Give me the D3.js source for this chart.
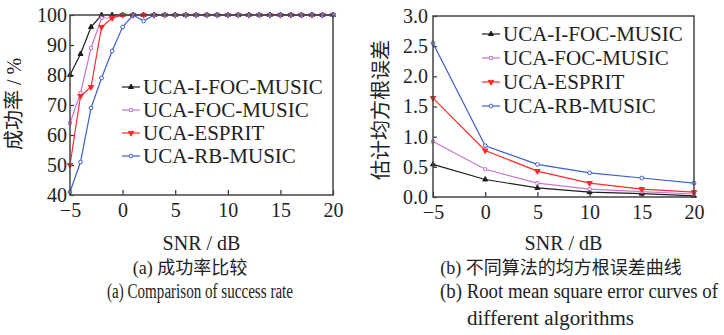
<!DOCTYPE html>
<html lang="zh">
	<head>
		<meta charset="utf-8">
		<title>UCA success rate and RMSE</title>
		<script type="text/javascript" src="https://cdn.jsdelivr.net/npm/d3@7"></script>
		<style type="text/css">
			body { margin: 0; background: #fff; }
			text {
				font-family: "Liberation Serif", "Noto Sans CJK SC", serif;
				fill: #222;
			}
			.axis path { display: none; }
			.axis line { stroke: #333; stroke-width: 1.2; }
			.axis text { font-size: 20px; }
			.frame { fill: none; stroke: #444; stroke-width: 1.5; }
			.legend text { font-size: 21px; }
		</style>
	</head>
	<body>
		<script type="text/javascript">

			// (a) success rate, SNR from -5 to 20 dB in 1 dB steps
			var snrA = [-5,-4,-3,-2,-1,0,1,2,3,4,5,6,7,8,9,10,11,12,13,14,15,16,17,18,19,20];
			var rateIFOC  = [80,87,96,100,100,100,100,100,100,100,100,100,100,100,100,100,100,100,100,100,100,100,100,100,100,100];
			var rateFOC   = [64,74,89,99,99,100,100,100,100,100,100,100,100,100,100,100,100,100,100,100,100,100,100,100,100,100];
			var rateESP   = [50,73,76,96,99,100,100,100,100,100,100,100,100,100,100,100,100,100,100,100,100,100,100,100,100,100];
			var rateRB    = [41,51,69,79,88,96,100,98,100,100,100,100,100,100,100,100,100,100,100,100,100,100,100,100,100,100];

			// (b) RMSE, SNR in 5 dB steps
			var snrB = [-5,0,5,10,15,20];
			var rmseIFOC = [0.54,0.29,0.15,0.08,0.055,0.02];
			var rmseFOC  = [0.92,0.46,0.23,0.13,0.09,0.05];
			var rmseESP  = [1.64,0.77,0.43,0.23,0.13,0.08];
			var rmseRB   = [2.55,0.85,0.54,0.40,0.315,0.23];

			var seriesNames = ["UCA-I-FOC-MUSIC","UCA-FOC-MUSIC","UCA-ESPRIT","UCA-RB-MUSIC"];
			var xTicks = [-5,0,5,10,15,20];
			var yTicksA = [40,50,60,70,80,90,100];
			var yTicksB = [0,0.5,1.0,1.5,2.0,2.5,3.0];

			var styles = [
				{color: "#1e1e1e", symbol: d3.symbolTriangle, fill: true,  size: 11},
				{color: "#c878cc", symbol: d3.symbolSquare,   fill: false, size: 9},
				{color: "#ff2b2b", symbol: d3.symbolTriangle, fill: true,  size: 13, flip: true},
				{color: "#3d5ecb", symbol: d3.symbolCircle,   fill: false, size: 11}
			];

			var svg = d3.select("body")
						.append("svg")
						.attr("width", 724)
						.attr("height", 335);

			function drawMarker(g, s, x, y) {
				g.append("path")
				 .attr("d", d3.symbol().type(s.symbol).size(s.size)())
				 .attr("transform", "translate(" + x + "," + y + ")" + (s.flip ? " rotate(180)" : ""))
				 .attr("fill", s.fill ? s.color : "#fff")
				 .attr("stroke", s.color)
				 .attr("stroke-width", 1);
			}

			function panel(opt) {
				var xScale = d3.scaleLinear().domain([-5, 20]).range([opt.left, opt.right]);
				var yScale = d3.scaleLinear().domain(opt.yDomain).range([opt.bottom, opt.top]);

				// ticks point into the plot
				svg.append("g")
				   .attr("class", "axis")
				   .attr("transform", "translate(0," + opt.bottom + ")")
				   .call(d3.axisBottom(xScale).tickValues(xTicks).tickSizeInner(-5).tickSizeOuter(0).tickPadding(8));

				svg.append("g")
				   .attr("class", "axis")
				   .attr("transform", "translate(" + opt.left + ",0)")
				   .call(d3.axisLeft(yScale).tickValues(opt.yTicks).tickSizeInner(-4).tickSizeOuter(0)
				   		.tickPadding(opt.yPad).tickFormat(opt.yFormat));

				var line = d3.line()
							 .x(function(d) { return xScale(d[0]); })
							 .y(function(d) { return yScale(d[1]); });

				opt.series.forEach(function(vals, i) {
					var s = styles[i];
					var pts = opt.x.map(function(x, j) { return [x, vals[j]]; });
					var g = svg.append("g");
					g.append("path")
					 .datum(pts)
					 .attr("d", line)
					 .attr("fill", "none")
					 .attr("stroke", s.color)
					 .attr("stroke-width", 1.2);
					pts.forEach(function(p) { drawMarker(g, s, xScale(p[0]), yScale(p[1])); });
				});

				svg.append("rect")
				   .attr("class", "frame")
				   .attr("x", opt.left)
				   .attr("y", opt.top)
				   .attr("width", opt.right - opt.left)
				   .attr("height", opt.bottom - opt.top);

				// legend
				var lg = svg.append("g").attr("class", "legend");
				seriesNames.forEach(function(name, i) {
					var y = opt.legY + i * opt.legStep;
					var s = styles[i];
					lg.append("line")
					  .attr("x1", opt.legX).attr("x2", opt.legX + 18)
					  .attr("y1", y).attr("y2", y)
					  .attr("stroke", s.color).attr("stroke-width", 1.2);
					drawMarker(lg, s, opt.legX + 9, y);
					lg.append("text")
					  .attr("x", opt.legX + 21)
					  .attr("y", y)
					  .attr("dy", "0.35em")
					  .text(name);
				});

				// axis titles
				svg.append("text")
				   .attr("x", (opt.left + opt.right) / 2)
				   .attr("y", 243)
				   .attr("dy", "0.35em")
				   .attr("text-anchor", "middle")
				   .style("font-size", "20px")
				   .text("SNR / dB");

				svg.append("text")
				   .attr("transform", "translate(" + opt.yTitleX + "," + opt.yTitleY + ") rotate(-90)")
				   .attr("dy", "0.35em")
				   .attr("text-anchor", "middle")
				   .style("font-size", "20px")
				   .text(opt.yTitle);
			}

			panel({
				left: 70, right: 333, top: 15, bottom: 195,
				yDomain: [40, 100], yTicks: yTicksA, yPad: 3, yFormat: d3.format("d"),
				x: snrA, series: [rateIFOC, rateFOC, rateESP, rateRB],
				legX: 122, legY: 87, legStep: 23,
				yTitle: "成功率 / %", yTitleX: 14, yTitleY: 104
			});

			panel({
				left: 433, right: 694, top: 16, bottom: 197,
				yDomain: [0, 3], yTicks: yTicksB, yPad: 5, yFormat: d3.format(".1f"),
				x: snrB, series: [rmseIFOC, rmseFOC, rmseESP, rmseRB],
				legX: 482, legY: 34, legStep: 24,
				yTitle: "估计均方根误差", yTitleX: 381, yTitleY: 110
			});

			// captions
			var captions = [
				{t: "(a) 成功率比较", x: 190, y: 268, anchor: "middle", size: 18},
				{t: "(a) Comparison of success rate", x: 200, y: 291, anchor: "middle", len: 186, size: 20},
				{t: "(b) 不同算法的均方根误差曲线", x: 561, y: 268, anchor: "middle", size: 18},
				{t: "(b) Root mean square error curves of", x: 440, y: 291, anchor: "start", len: 278, size: 20},
				{t: "different algorithms", x: 467, y: 318, anchor: "start", len: 167, size: 20}
			];
			captions.forEach(function(c) {
				var t = svg.append("text")
						   .attr("x", c.x)
						   .attr("y", c.y)
						   .attr("dy", "0.35em")
						   .attr("text-anchor", c.anchor)
						   .style("font-size", c.size + "px")
						   .text(c.t);
				if (c.len) t.attr("textLength", c.len).attr("lengthAdjust", "spacingAndGlyphs");
			});
		</script>
	</body>
</html>
